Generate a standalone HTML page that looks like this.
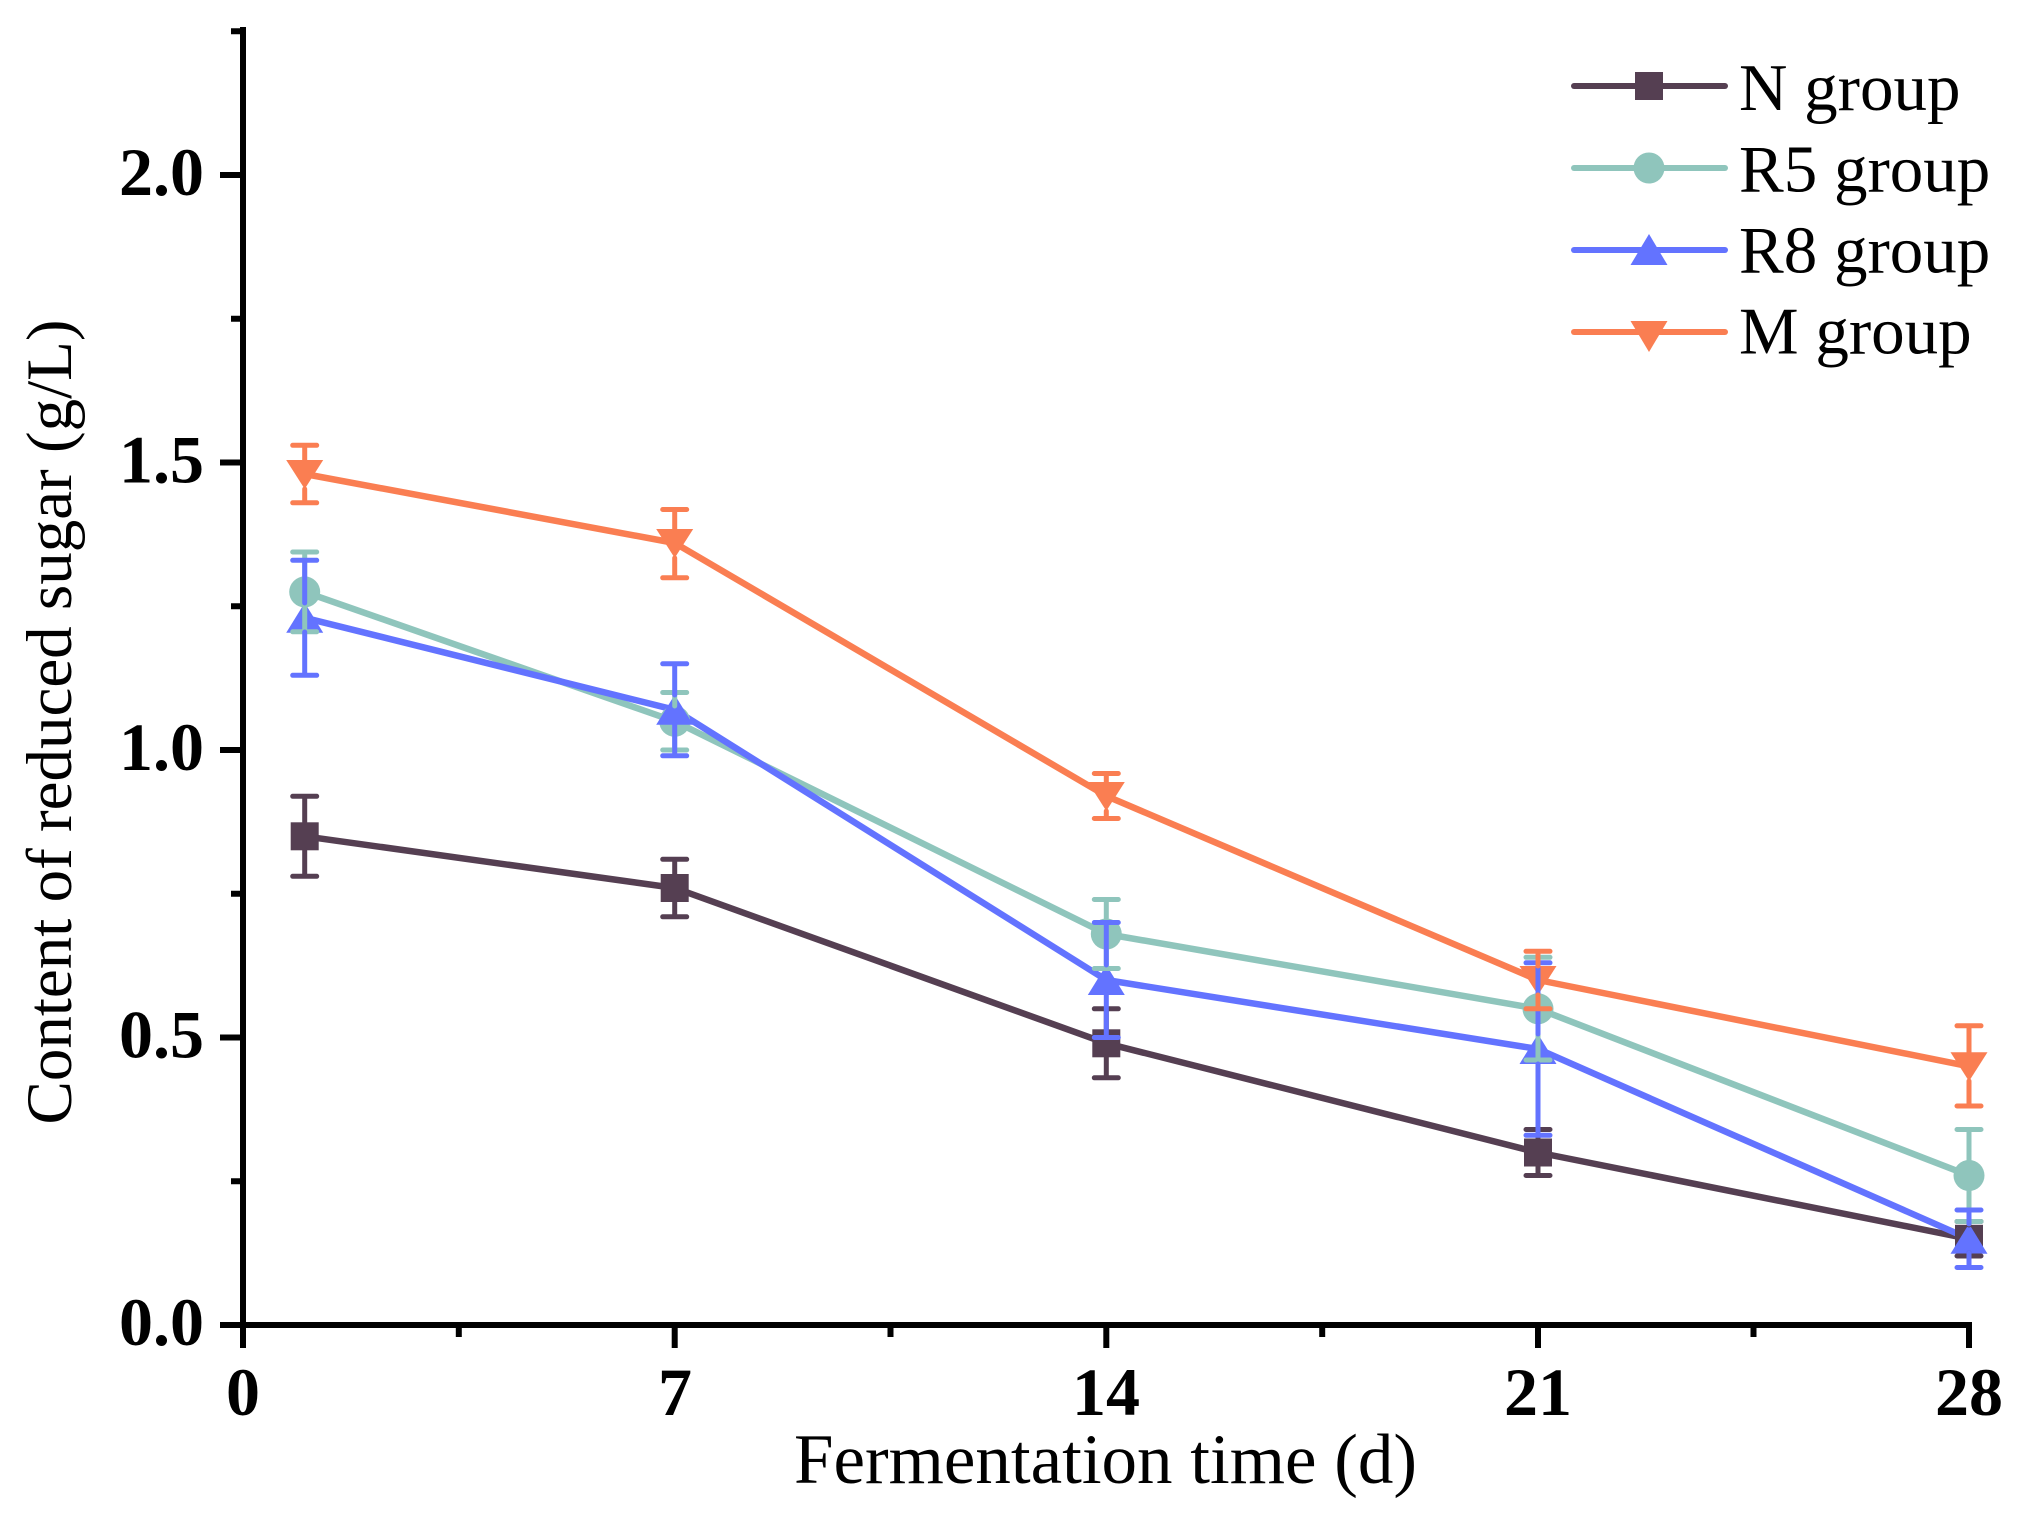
<!DOCTYPE html>
<html>
<head>
<meta charset="utf-8">
<style>
  html,body{margin:0;padding:0;background:#fff;}
  svg{display:block;}
  text{font-family:"Liberation Serif","Times New Roman",serif;fill:#000;}
  .tick{font-weight:bold;font-size:68px;}
</style>
</head>
<body>
<svg width="2017" height="1516" viewBox="0 0 2017 1516" xmlns="http://www.w3.org/2000/svg">
  <rect x="0" y="0" width="2017" height="1516" fill="#fff"/>

  <!-- Axes -->
  <g stroke="#000" stroke-width="6" fill="none" stroke-linecap="square">
    <line x1="243" y1="30" x2="243" y2="1325"/>
    <line x1="243" y1="1325" x2="1969" y2="1325"/>
  </g>
  <!-- Y major ticks -->
  <g stroke="#000" stroke-width="6">
    <line x1="220" y1="1325" x2="243" y2="1325"/>
    <line x1="220" y1="1037.5" x2="243" y2="1037.5"/>
    <line x1="220" y1="750" x2="243" y2="750"/>
    <line x1="220" y1="462.5" x2="243" y2="462.5"/>
    <line x1="220" y1="175" x2="243" y2="175"/>
    <!-- Y minor ticks -->
    <line x1="231" y1="1181.25" x2="243" y2="1181.25"/>
    <line x1="231" y1="893.75" x2="243" y2="893.75"/>
    <line x1="231" y1="606.25" x2="243" y2="606.25"/>
    <line x1="231" y1="318.75" x2="243" y2="318.75"/>
    <line x1="231" y1="31.25" x2="243" y2="31.25"/>
    <!-- X major ticks -->
    <line x1="243" y1="1325" x2="243" y2="1348"/>
    <line x1="674.7" y1="1325" x2="674.7" y2="1348"/>
    <line x1="1106.3" y1="1325" x2="1106.3" y2="1348"/>
    <line x1="1538" y1="1325" x2="1538" y2="1348"/>
    <line x1="1969" y1="1325" x2="1969" y2="1348"/>
    <!-- X minor ticks -->
    <line x1="458.8" y1="1325" x2="458.8" y2="1337"/>
    <line x1="890.5" y1="1325" x2="890.5" y2="1337"/>
    <line x1="1322.2" y1="1325" x2="1322.2" y2="1337"/>
    <line x1="1753.5" y1="1325" x2="1753.5" y2="1337"/>
  </g>

  <!-- Y tick labels -->
  <g class="tick" text-anchor="end">
    <text x="204" y="1345">0.0</text>
    <text x="204" y="1057.5">0.5</text>
    <text x="204" y="770">1.0</text>
    <text x="204" y="482.5">1.5</text>
    <text x="204" y="195">2.0</text>
  </g>
  <!-- X tick labels -->
  <g class="tick" text-anchor="middle">
    <text x="243" y="1415">0</text>
    <text x="675" y="1415">7</text>
    <text x="1106" y="1415">14</text>
    <text x="1538" y="1415">21</text>
    <text x="1969" y="1415">28</text>
  </g>

  <!-- Axis titles -->
  <text x="1105.5" y="1483" font-size="71" text-anchor="middle">Fermentation time (d)</text>
  <text transform="translate(71,722) rotate(-90)" font-size="65" text-anchor="middle">Content of reduced sugar (g/L)</text>

  <!-- Series lines -->
  <g fill="none" stroke-width="6.5" stroke-linejoin="round">
    <polyline stroke="#553f52" points="304.7,836.3 674.7,888 1106.3,1043.3 1538,1152.5 1969,1238.8"/>
    <polyline stroke="#8fc5bc" points="304.7,591.9 674.7,721.3 1106.3,934 1538,1008.8 1969,1175.5"/>
    <polyline stroke="#6373ff" points="304.7,617.8 674.7,709.8 1106.3,980 1538,1049 1969,1238.8"/>
    <polyline stroke="#fa7e52" points="304.7,474 674.7,543 1106.3,796 1538,980 1969,1066.3"/>
  </g>

  <!-- Markers -->
  <g fill="#553f52">
    <rect x="290.7" y="822.3" width="28" height="28"/>
    <rect x="660.7" y="874" width="28" height="28"/>
    <rect x="1092.3" y="1029.3" width="28" height="28"/>
    <rect x="1524" y="1138.5" width="28" height="28"/>
    <rect x="1955" y="1224.8" width="28" height="28"/>
  </g>
  <g fill="#8fc5bc">
    <circle cx="304.7" cy="591.9" r="15.5"/>
    <circle cx="674.7" cy="721.3" r="15.5"/>
    <circle cx="1106.3" cy="934" r="15.5"/>
    <circle cx="1538" cy="1008.8" r="15.5"/>
    <circle cx="1969" cy="1175.5" r="15.5"/>
  </g>
  <g fill="#6373ff">
    <polygon points="304.7,602.8 323.2,632.8 286.2,632.8"/>
    <polygon points="674.7,694.8 693.2,724.8 656.2,724.8"/>
    <polygon points="1106.3,965 1124.8,995 1087.8,995"/>
    <polygon points="1538,1034 1556.5,1064 1519.5,1064"/>
    <polygon points="1969,1223.8 1987.5,1253.8 1950.5,1253.8"/>
  </g>
  <g fill="#fa7e52">
    <polygon points="286.2,460 323.2,460 304.7,489"/>
    <polygon points="656.2,529 693.2,529 674.7,558"/>
    <polygon points="1087.8,782 1124.8,782 1106.3,811"/>
    <polygon points="1519.5,966 1556.5,966 1538,995"/>
    <polygon points="1950.5,1052.3 1987.5,1052.3 1969,1081.3"/>
  </g>

  <!-- Error bars -->
  <g stroke="#553f52" stroke-width="5" stroke-linecap="round" fill="none">
    <path d="M304.7,822 V796.3 M292.7,796.3 H316.7 M304.7,850 V876.3 M292.7,876.3 H316.7"/>
    <path d="M674.7,874 V859.3 M662.7,859.3 H686.7 M674.7,902 V916.8 M662.7,916.8 H686.7"/>
    <path d="M1106.3,1029 V1008.8 M1094.3,1008.8 H1118.3 M1106.3,1057 V1077.8 M1094.3,1077.8 H1118.3"/>
    <path d="M1538,1138 V1129.5 M1526,1129.5 H1550 M1538,1166 V1175.5 M1526,1175.5 H1550"/>
    <path d="M1969,1225 V1221.5 M1957,1221.5 H1981 M1969,1253 V1256 M1957,1256 H1981"/>
  </g>
  <g stroke="#8fc5bc" stroke-width="5" stroke-linecap="round" fill="none">
    <path d="M304.7,576 V552 M292.7,552 H316.7 M304.7,607 V631.8 M292.7,631.8 H316.7"/>
    <path d="M674.7,706 V692.5 M662.7,692.5 H686.7 M674.7,737 V750 M662.7,750 H686.7"/>
    <path d="M1106.3,918 V899.5 M1094.3,899.5 H1118.3 M1106.3,950 V968.5 M1094.3,968.5 H1118.3"/>
    <path d="M1538,993 V957.3 M1526,957.3 H1550 M1538,1024 V1060 M1526,1060 H1550"/>
    <path d="M1969,1160 V1129.5 M1957,1129.5 H1981 M1969,1191 V1221.5 M1957,1221.5 H1981"/>
  </g>
  <g stroke="#6373ff" stroke-width="5" stroke-linecap="round" fill="none">
    <path d="M304.7,603 V560.3 M292.7,560.3 H316.7 M304.7,632 V675.3 M292.7,675.3 H316.7"/>
    <path d="M674.7,695 V663.8 M662.7,663.8 H686.7 M674.7,724 V755.8 M662.7,755.8 H686.7"/>
    <path d="M1106.3,965 V922.5 M1094.3,922.5 H1118.3 M1106.3,995 V1037.5 M1094.3,1037.5 H1118.3"/>
    <path d="M1538,1034 V962.8 M1526,962.8 H1550 M1538,1064 V1135.3 M1526,1135.3 H1550"/>
    <path d="M1969,1224 V1210 M1957,1210 H1981 M1969,1253 V1267.5 M1957,1267.5 H1981"/>
  </g>
  <g stroke="#fa7e52" stroke-width="5" stroke-linecap="round" fill="none">
    <path d="M304.7,460 V445.3 M292.7,445.3 H316.7 M304.7,489 V502.8 M292.7,502.8 H316.7"/>
    <path d="M674.7,529 V509.5 M662.7,509.5 H686.7 M674.7,558 V577.8 M662.7,577.8 H686.7"/>
    <path d="M1106.3,782 V773.5 M1094.3,773.5 H1118.3 M1106.3,811 V818.5 M1094.3,818.5 H1118.3"/>
    <path d="M1538,966 V951.3 M1526,951.3 H1550 M1538,995 V1008.8 M1526,1008.8 H1550"/>
    <path d="M1969,1052 V1025.8 M1957,1025.8 H1981 M1969,1081 V1106 M1957,1106 H1981"/>
  </g>

  <!-- Legend -->
  <g stroke-width="6" stroke-linecap="round">
    <line x1="1574" y1="86" x2="1725" y2="86" stroke="#553f52"/>
    <line x1="1574" y1="168" x2="1725" y2="168" stroke="#8fc5bc"/>
    <line x1="1574" y1="250" x2="1725" y2="250" stroke="#6373ff"/>
    <line x1="1574" y1="332" x2="1725" y2="332" stroke="#fa7e52"/>
  </g>
  <rect x="1635" y="72" width="28" height="28" fill="#553f52"/>
  <circle cx="1649" cy="168" r="15.5" fill="#8fc5bc"/>
  <polygon points="1649,234 1667.5,265 1630.5,265" fill="#6373ff"/>
  <polygon points="1630.5,321 1667.5,321 1649,352" fill="#fa7e52"/>
  <g font-size="67">
    <text x="1739" y="110">N group</text>
    <text x="1739" y="191.5">R5 group</text>
    <text x="1739" y="272.5">R8 group</text>
    <text x="1739" y="353.5">M group</text>
  </g>
</svg>
</body>
</html>
